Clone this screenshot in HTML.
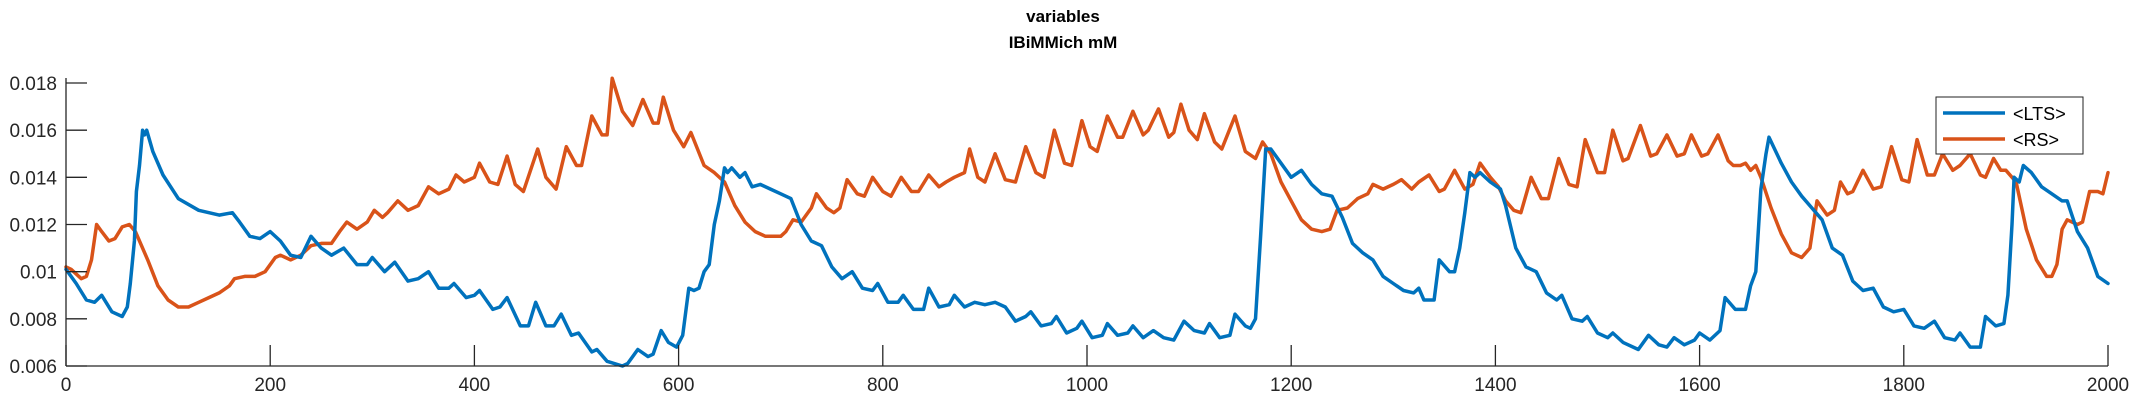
<!DOCTYPE html>
<html><head><meta charset="utf-8">
<style>
html,body{margin:0;padding:0;background:#fff;}
svg{display:block;font-family:"Liberation Sans",sans-serif;}
</style></head>
<body>
<svg id="chart" width="2133" height="400" viewBox="0 0 2133 400" xmlns="http://www.w3.org/2000/svg">
<text x="1063" y="22" text-anchor="middle" font-size="17" font-weight="bold" fill="#000">variables</text>
<text x="1063" y="48" text-anchor="middle" font-size="17" font-weight="bold" fill="#000">IBiMMich mM</text>
<g id="plot"></g>
<g id="axes"></g>
<g>
<rect x="1936" y="97" width="147" height="57" fill="#fff" stroke="#222" stroke-width="1"/>
<line x1="1943" y1="113" x2="2005" y2="113" stroke="#0072BD" stroke-width="3.5"/>
<text x="2013" y="120" font-size="18" fill="#000">&lt;LTS&gt;</text>
<line x1="1943" y1="139" x2="2005" y2="139" stroke="#D95319" stroke-width="3.5"/>
<text x="2013" y="146" font-size="18" fill="#000">&lt;RS&gt;</text>
</g>
</svg>
<script>
const ltsT=[0,10,20,28,35,45,55,60,63,67,69,72,75,77,79,85,95,110,130,150,163,170,180,190,200,210,220,230,240,250,260,272,285,295,300,312,322,335,345,355,365,375,380,392,400,405,418,425,432,445,453,460,470,478,485,495,502,515,520,530,545,550,560,570,575,583,590,598,604,610,615,620,625,630,635,640,645,648,652,660,665,672,680,690,700,710,720,730,740,750,760,770,780,790,795,805,815,820,830,840,845,855,865,870,880,890,900,910,920,930,940,945,955,965,970,980,990,995,1005,1015,1020,1030,1040,1045,1055,1065,1075,1085,1095,1105,1115,1120,1130,1140,1145,1155,1160,1165,1170,1175,1180,1190,1200,1210,1220,1230,1240,1250,1260,1270,1280,1290,1300,1310,1320,1325,1330,1340,1345,1355,1360,1365,1370,1375,1380,1385,1395,1405,1410,1420,1430,1440,1450,1460,1465,1475,1485,1490,1500,1510,1515,1525,1540,1550,1560,1568,1575,1585,1595,1600,1610,1620,1625,1635,1645,1650,1655,1660,1665,1668,1680,1690,1700,1710,1720,1730,1740,1750,1760,1770,1780,1790,1800,1810,1820,1830,1840,1850,1855,1865,1875,1880,1890,1898,1902,1906,1908,1913,1917,1925,1935,1945,1955,1960,1970,1980,1990,2000];
const ltsV=[0.0101,0.0095,0.0088,0.0087,0.009,0.0083,0.0081,0.0085,0.0095,0.0113,0.0134,0.0145,0.016,0.0158,0.016,0.0151,0.0141,0.0131,0.0126,0.0124,0.0125,0.0121,0.0115,0.0114,0.0117,0.0113,0.0107,0.0106,0.0115,0.011,0.0107,0.011,0.0103,0.0103,0.0106,0.01,0.0104,0.0096,0.0097,0.01,0.0093,0.0093,0.0095,0.0089,0.009,0.0092,0.0084,0.0085,0.0089,0.0077,0.0077,0.0087,0.0077,0.0077,0.0082,0.0073,0.0074,0.0066,0.0067,0.0062,0.006,0.0061,0.0067,0.0064,0.0065,0.0075,0.007,0.0068,0.0073,0.0093,0.0092,0.0093,0.01,0.0103,0.012,0.013,0.0144,0.0142,0.0144,0.014,0.0142,0.0136,0.0137,0.0135,0.0133,0.0131,0.012,0.0113,0.0111,0.0102,0.0097,0.01,0.0093,0.0092,0.0095,0.0087,0.0087,0.009,0.0084,0.0084,0.0093,0.0085,0.0086,0.009,0.0085,0.0087,0.0086,0.0087,0.0085,0.0079,0.0081,0.0083,0.0077,0.0078,0.0081,0.0074,0.0076,0.0079,0.0072,0.0073,0.0078,0.0073,0.0074,0.0077,0.0072,0.0075,0.0072,0.0071,0.0079,0.0075,0.0074,0.0078,0.0072,0.0073,0.0082,0.0077,0.0076,0.008,0.0115,0.0152,0.0152,0.0146,0.014,0.0143,0.0137,0.0133,0.0132,0.0123,0.0112,0.0108,0.0105,0.0098,0.0095,0.0092,0.0091,0.0093,0.0088,0.0088,0.0105,0.01,0.01,0.011,0.0125,0.0142,0.014,0.0142,0.0138,0.0135,0.0128,0.011,0.0102,0.01,0.0091,0.0088,0.009,0.008,0.0079,0.0081,0.0074,0.0072,0.0074,0.007,0.0067,0.0073,0.0069,0.0068,0.0072,0.0069,0.0071,0.0074,0.0071,0.0075,0.0089,0.0084,0.0084,0.0094,0.01,0.0135,0.015,0.0157,0.0146,0.0138,0.0132,0.0127,0.0122,0.011,0.0107,0.0096,0.0092,0.0093,0.0085,0.0083,0.0084,0.0077,0.0076,0.0079,0.0072,0.0071,0.0074,0.0068,0.0068,0.0081,0.0077,0.0078,0.009,0.012,0.014,0.0138,0.0145,0.0142,0.0136,0.0133,0.013,0.013,0.0117,0.011,0.0098,0.0095];
const rsT=[0,5,15,20,25,30,35,42,48,55,62,68,80,90,100,110,120,130,140,150,160,165,175,185,195,205,210,220,230,240,250,260,268,275,285,295,302,310,315,325,335,345,355,365,375,382,390,400,405,415,423,432,440,448,462,470,480,490,500,505,515,525,530,535,545,555,565,575,580,585,595,605,612,625,635,645,655,665,675,685,700,705,712,720,730,735,745,752,758,765,775,782,790,800,808,818,828,835,845,855,862,870,880,885,893,900,910,920,930,940,950,958,968,978,985,995,1003,1010,1020,1030,1035,1045,1055,1060,1070,1080,1085,1092,1100,1108,1115,1125,1132,1145,1155,1165,1172,1180,1190,1200,1210,1220,1230,1238,1245,1255,1265,1275,1280,1290,1300,1308,1318,1325,1335,1345,1350,1360,1370,1378,1385,1395,1403,1410,1418,1425,1435,1445,1452,1462,1472,1480,1488,1500,1507,1515,1525,1530,1542,1552,1558,1568,1578,1585,1592,1602,1608,1618,1628,1633,1640,1645,1650,1655,1660,1670,1680,1690,1700,1708,1715,1725,1732,1738,1745,1750,1760,1770,1778,1788,1798,1805,1813,1823,1830,1838,1848,1855,1865,1875,1880,1888,1895,1900,1910,1920,1930,1940,1945,1950,1955,1960,1970,1975,1982,1990,1995,2000];
const rsV=[0.0102,0.0101,0.0097,0.0098,0.0105,0.012,0.0117,0.0113,0.0114,0.0119,0.012,0.0117,0.0105,0.0094,0.0088,0.0085,0.0085,0.0087,0.0089,0.0091,0.0094,0.0097,0.0098,0.0098,0.01,0.0106,0.0107,0.0105,0.0107,0.0111,0.0112,0.0112,0.0117,0.0121,0.0118,0.0121,0.0126,0.0123,0.0125,0.013,0.0126,0.0128,0.0136,0.0133,0.0135,0.0141,0.0138,0.014,0.0146,0.0138,0.0137,0.0149,0.0137,0.0134,0.0152,0.014,0.0135,0.0153,0.0145,0.0145,0.0166,0.0158,0.0158,0.0182,0.0168,0.0162,0.0173,0.0163,0.0163,0.0174,0.016,0.0153,0.0159,0.0145,0.0142,0.0138,0.0128,0.0121,0.0117,0.0115,0.0115,0.0117,0.0122,0.0121,0.0127,0.0133,0.0127,0.0125,0.0127,0.0139,0.0133,0.0132,0.014,0.0134,0.0132,0.014,0.0134,0.0134,0.0141,0.0136,0.0138,0.014,0.0142,0.0152,0.014,0.0138,0.015,0.0139,0.0138,0.0153,0.0142,0.014,0.016,0.0146,0.0145,0.0164,0.0153,0.0151,0.0166,0.0157,0.0157,0.0168,0.0158,0.016,0.0169,0.0157,0.0159,0.0171,0.016,0.0156,0.0167,0.0155,0.0152,0.0166,0.0151,0.0148,0.0155,0.015,0.0138,0.013,0.0122,0.0118,0.0117,0.0118,0.0126,0.0127,0.0131,0.0133,0.0137,0.0135,0.0137,0.0139,0.0135,0.0138,0.0141,0.0134,0.0135,0.0143,0.0135,0.0137,0.0146,0.014,0.0136,0.013,0.0126,0.0125,0.014,0.0131,0.0131,0.0148,0.0137,0.0136,0.0156,0.0142,0.0142,0.016,0.0147,0.0148,0.0162,0.0149,0.015,0.0158,0.0149,0.015,0.0158,0.0149,0.015,0.0158,0.0147,0.0145,0.0145,0.0146,0.0143,0.0145,0.014,0.0127,0.0116,0.0108,0.0106,0.011,0.013,0.0124,0.0126,0.0138,0.0133,0.0134,0.0143,0.0135,0.0136,0.0153,0.0139,0.0138,0.0156,0.0141,0.0141,0.015,0.0143,0.0145,0.015,0.0141,0.014,0.0148,0.0143,0.0143,0.0138,0.0118,0.0105,0.0098,0.0098,0.0103,0.0118,0.0122,0.012,0.0121,0.0134,0.0134,0.0133,0.0142];
const xTicks=[0,200,400,600,800,1000,1200,1400,1600,1800,2000];
const yTicks=[0.006,0.008,0.01,0.012,0.014,0.016,0.018];
const yTickLabels=["0.006","0.008","0.01","0.012","0.014","0.016","0.018"];

const NS="http://www.w3.org/2000/svg";
const X0=66,X1=2108,Y0=366,Y1=83;
function sx(t){return X0+(t-0)/(2000-0)*(X1-X0);}
function sy(v){return Y0-(v-0.006)/(0.018-0.006)*(Y0-Y1);}
const plot=document.getElementById('plot');
const axes=document.getElementById('axes');
function mk(tag,attrs,parent){const e=document.createElementNS(NS,tag);for(const k in attrs)e.setAttribute(k,attrs[k]);parent.appendChild(e);return e;}
function drawSeries(T,V,color,name){
  let d='';
  for(let i=0;i<T.length;i++){d+=(i?'L':'M')+sx(T[i]).toFixed(1)+','+sy(V[i]).toFixed(1);}
  const p=mk('path',{d:d,fill:'none',stroke:color,'stroke-width':3.5,'stroke-linejoin':'round','stroke-linecap':'round'},plot);
  
  
}
drawSeries(rsT,rsV,'#D95319','rs-line');
drawSeries(ltsT,ltsV,'#0072BD','lts-line');

const xa=mk('line',{x1:X0,y1:Y0,x2:X1,y2:Y0,stroke:'#262626','stroke-width':1.3},axes);


const ya=mk('line',{x1:X0,y1:Y0,x2:X0,y2:Y1-5,stroke:'#262626','stroke-width':1.3},axes);


xTicks.forEach(t=>{
  const x=sx(t);
  const l=mk('line',{x1:x,y1:Y0,x2:x,y2:Y0-21,stroke:'#262626','stroke-width':1.3},axes);
  
  
  const tx=mk('text',{x:x,y:Y0+25,'text-anchor':'middle','font-size':19,fill:'#262626'},axes);
  tx.textContent=String(t);
  
  
});
yTicks.forEach((v,i)=>{
  const y=sy(v);
  const l=mk('line',{x1:X0,y1:y,x2:X0+21,y2:y,stroke:'#262626','stroke-width':1.3},axes);
  
  
  const tx=mk('text',{x:57,y:y+7,'text-anchor':'end','font-size':19,fill:'#262626'},axes);
  tx.textContent=yTickLabels[i];
  
  
});
</script>
</body></html>
